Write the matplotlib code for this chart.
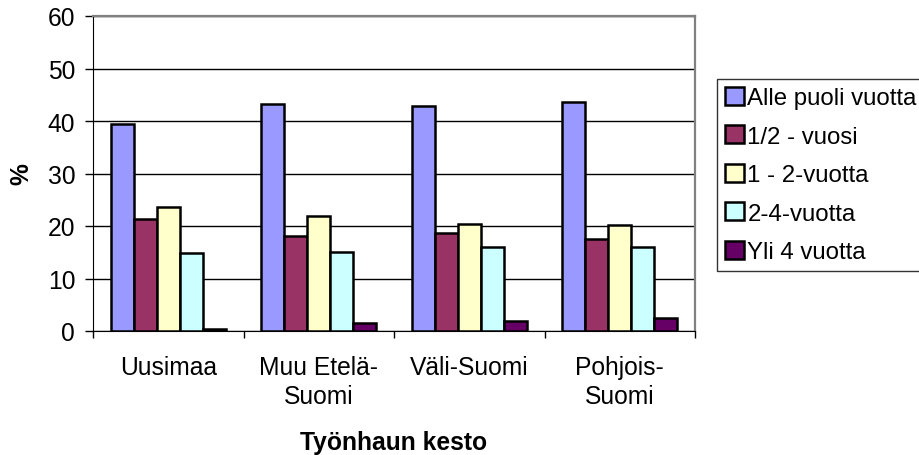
import numpy as np
import matplotlib.pyplot as plt

plt.rcParams['font.family'] = ['Liberation Sans', 'DejaVu Sans']

alueet = ['Uusimaa', 'Muu Etelä-\nSuomi', 'Väli-Suomi', 'Pohjois-\nSuomi']
sarjat = ['Alle puoli vuotta', '1/2 - vuosi', '1 - 2-vuotta', '2-4-vuotta', 'Yli 4 vuotta']
alle_puoli = [39.4, 43.2, 42.9, 43.6]
puoli_vuosi = [21.3, 18.1, 18.7, 17.5]
yksi_kaksi = [23.6, 21.9, 20.4, 20.2]
kaksi_nelja = [14.9, 15.0, 16.0, 16.0]
yli_nelja = [0.4, 1.5, 1.9, 2.4]
arvot = [alle_puoli, puoli_vuosi, yksi_kaksi, kaksi_nelja, yli_nelja]
varit = ['#9999ff', '#993366', '#ffffcc', '#ccffff', '#660066']

fs = 17.7

fig = plt.figure(figsize=(9.19, 4.56), dpi=100)
ax = fig.add_axes([93 / 919, (456 - 332) / 456, 602 / 919, 315 / 456])

x = np.arange(len(alueet))
w = 0.1528
for i, (nimi, v, c) in enumerate(zip(sarjat, arvot, varit)):
    ax.bar(x + (i - 2) * w, v, w, color=c, edgecolor='black', linewidth=1.8,
           label=nimi, zorder=3)

ax.set_xlim(-0.5, 3.5)
ax.set_ylim(0, 60)
ax.set_yticks(range(0, 61, 10))
ax.yaxis.grid(True, color='black', linewidth=1)
ax.set_axisbelow(True)

ax.set_xticks(x)
ax.set_xticklabels(alueet, fontsize=fs, linespacing=1.3)
ax.tick_params(axis='x', length=0, pad=17)
ax.set_xticks(np.arange(-0.5, 4, 1), minor=True)
ax.tick_params(axis='x', which='minor', length=5, direction='out', width=1)
ax.tick_params(axis='y', length=5.8, labelsize=fs, direction='out', pad=7, width=1)

for s in ['top', 'right']:
    ax.spines[s].set_color('#808080')
    ax.spines[s].set_linewidth(1.6)
ax.spines['left'].set_color('black')
ax.spines['bottom'].set_color('black')

ax.set_ylabel('%', fontsize=fs, fontweight='bold', labelpad=10)
ax.set_xlabel('Työnhaun kesto', fontsize=fs, fontweight='bold')
ax.xaxis.set_label_coords(0.5, -0.315)

leg = ax.legend(loc='upper left', bbox_to_anchor=(1.0365, 0.8), fontsize=17.3,
                frameon=True, fancybox=False, edgecolor='black',
                handlelength=0.78, handleheight=0.78, handletextpad=0.16,
                labelspacing=0.67, borderpad=0.33, borderaxespad=0)
leg.get_frame().set_linewidth(1)
for h in leg.legend_handles:
    h.set_linewidth(1.8)

fig.savefig('out.png', dpi=100)
